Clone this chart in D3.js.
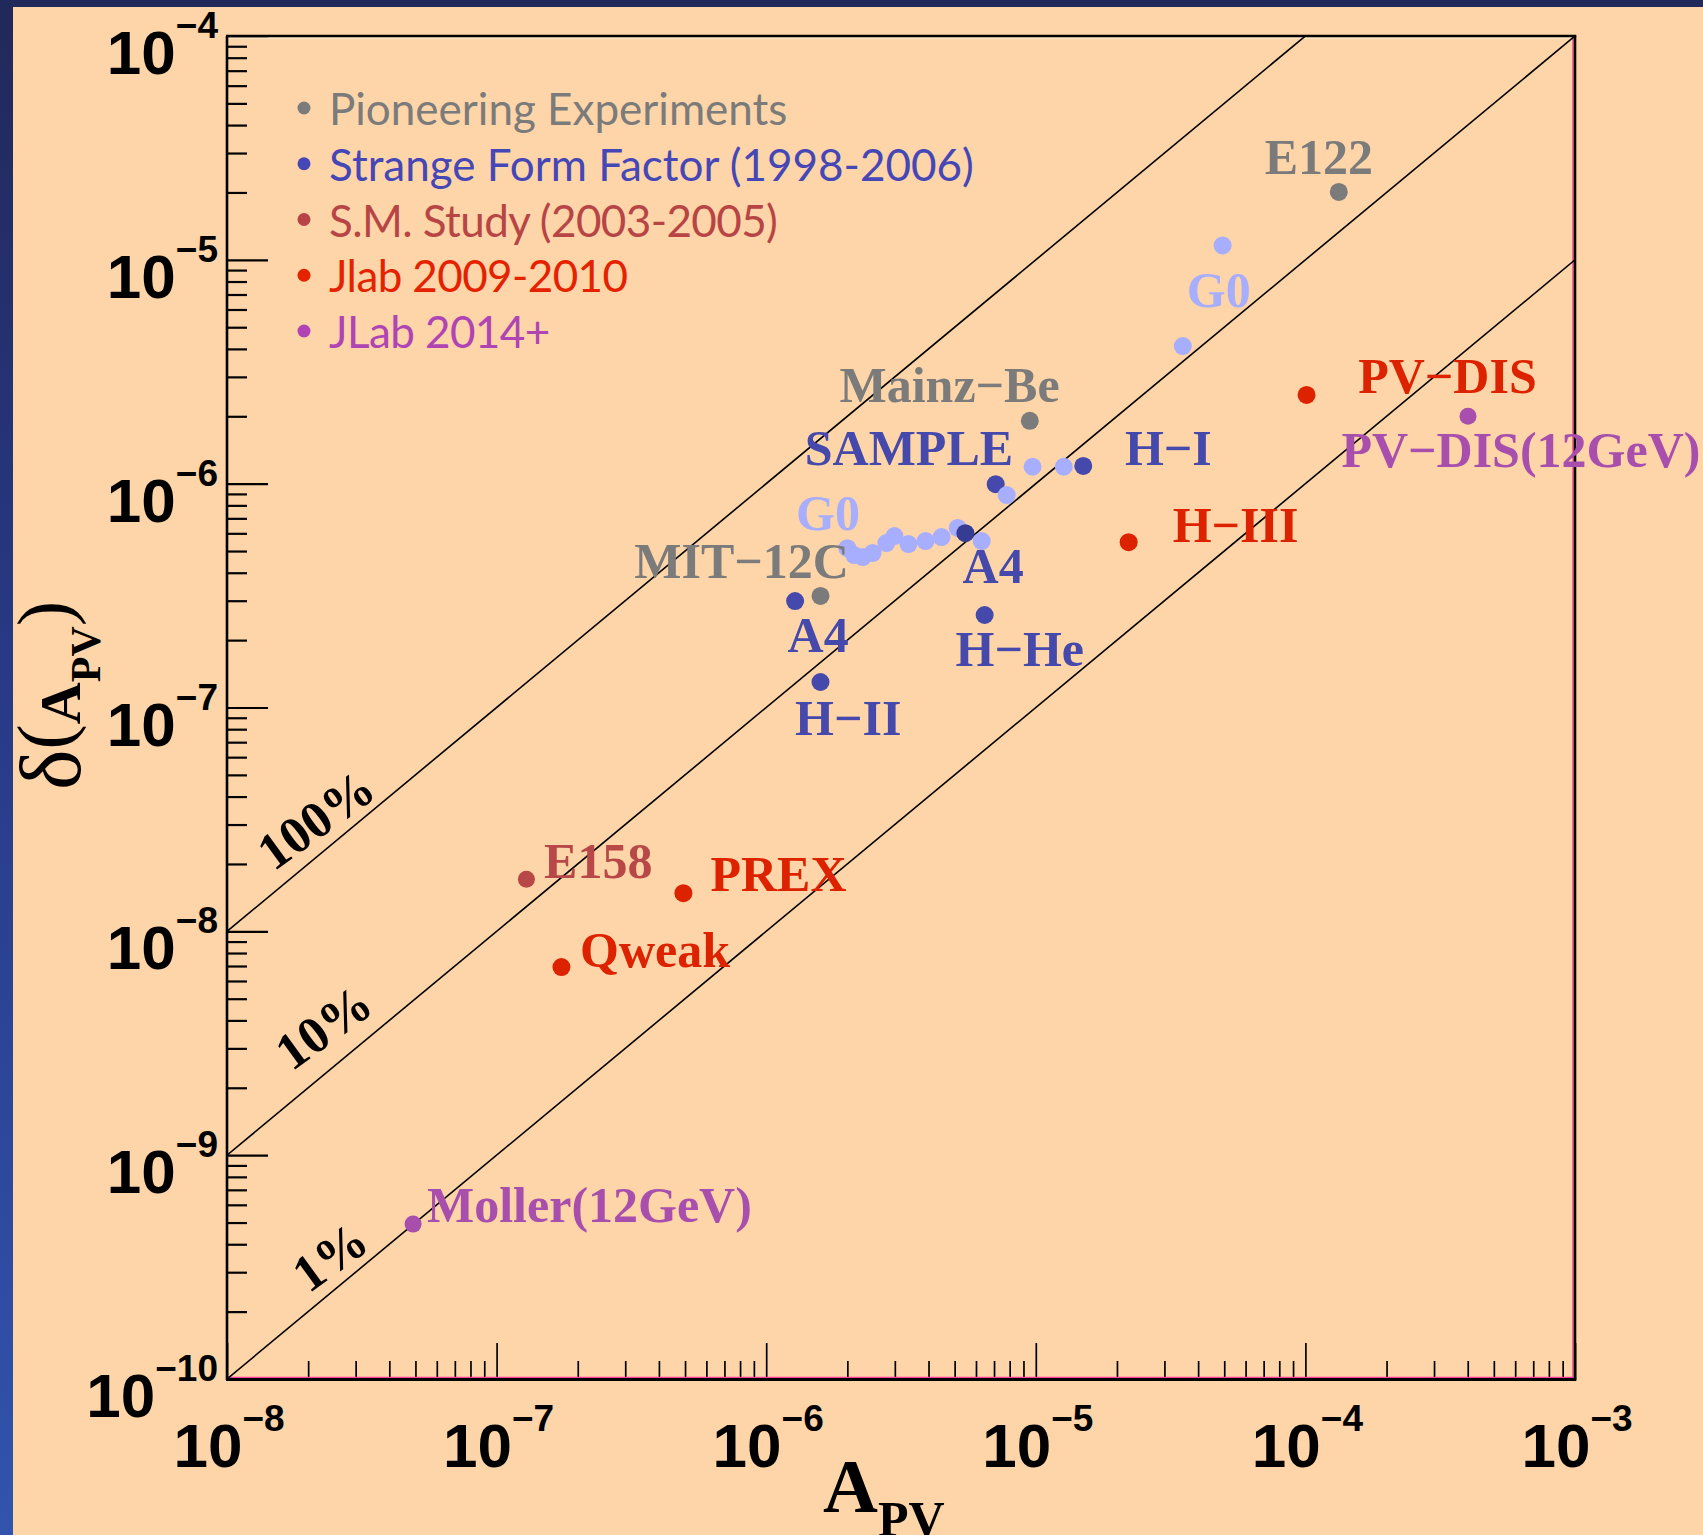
<!DOCTYPE html>
<html>
<head>
<meta charset="utf-8">
<script src="https://cdn.jsdelivr.net/npm/d3@7"></script>
<style>
  html, body { margin: 0; padding: 0; background: #222858; }
  svg { display: block; }
</style>
</head>
<body>
<svg id="chart" width="1703" height="1535"></svg>
<script>
// ---------------- data ----------------
// Parity-violating asymmetry A_PV versus its absolute uncertainty delta(A_PV)

const legendNames = [
  "Pioneering Experiments",
  "Strange Form Factor (1998-2006)",
  "S.M. Study (2003-2005)",
  "Jlab 2009-2010",
  "JLab 2014+"
];

// Pioneering experiments
const pioneering = [
  { name: "E122",     a: 1.33e-4, d: 2.01e-5 },
  { name: "Mainz-Be", a: 9.5e-6,  d: 1.91e-6 },
  { name: "MIT-12C",  a: 1.59e-6, d: 3.15e-7 }
];

// Strange form factor programme
const strangeFF = [
  { name: "SAMPLE", a: 7.10e-6, d: 9.95e-7 },
  { name: "H-I",    a: 1.50e-5, d: 1.20e-6 },
  { name: "A4",     a: 1.28e-6, d: 2.99e-7 },
  { name: "H-II",   a: 1.59e-6, d: 1.30e-7 },
  { name: "H-He",   a: 6.46e-6, d: 2.59e-7 }
];
const a4Forward = [ { name: "A4", a: 5.48e-6, d: 6.01e-7 } ];

// G0 measurements
const g0 = [
  { a: 2.00e-6, d: 5.15e-7 }, { a: 2.12e-6, d: 4.80e-7 }, { a: 2.28e-6, d: 4.70e-7 },
  { a: 2.48e-6, d: 4.90e-7 }, { a: 2.79e-6, d: 5.43e-7 }, { a: 2.99e-6, d: 5.83e-7 },
  { a: 3.37e-6, d: 5.37e-7 }, { a: 3.90e-6, d: 5.54e-7 }, { a: 4.47e-6, d: 5.77e-7 },
  { a: 5.13e-6, d: 6.34e-7 }, { a: 6.30e-6, d: 5.54e-7 }, { a: 7.80e-6, d: 8.89e-7 },
  { a: 9.73e-6, d: 1.19e-6 }, { a: 1.27e-5, d: 1.19e-6 }, { a: 3.51e-5, d: 4.12e-6 },
  { a: 4.93e-5, d: 1.16e-5 }
];

// Standard Model study
const smStudy = [ { name: "E158", a: 1.29e-7, d: 1.71e-8 } ];

// JLab 2009-2010
const jlab0910 = [
  { name: "PV-DIS", a: 1.01e-4, d: 2.49e-6 },
  { name: "H-III",  a: 2.21e-5, d: 5.48e-7 },
  { name: "PREX",   a: 4.93e-7, d: 1.48e-8 },
  { name: "Qweak",  a: 1.74e-7, d: 6.92e-9 }
];

// JLab 2014+
const jlab2014 = [
  { name: "PV-DIS(12GeV)", a: 4.01e-4, d: 2.00e-6 },
  { name: "Moller(12GeV)", a: 4.90e-8, d: 4.92e-10 }
];

// Relative-precision reference lines: delta = fraction * A
const precisionFractions = [1, 0.1, 0.01];
const precisionNames = ["100%", "10%", "1%"];
const precisionLabelAt = [ { a: 1.49e-8, d: 1.84e-8 }, { a: 1.74e-8, d: 2.35e-9 }, { a: 2.01e-8, d: 2.40e-10 } ];

// Experiment labels, anchored (left, baseline) in data coordinates
const labelText  = ["E122", "G0", "Mainz\u2212Be", "SAMPLE", "H\u2212I", "G0", "MIT\u221212C", "A4", "A4",
                    "H\u2212He", "H\u2212II", "H\u2212III", "PV\u2212DIS", "PV\u2212DIS(12GeV)", "E158", "PREX", "Qweak", "Moller(12GeV)"];
const labelGroup = ["pio", "g0", "pio", "sff", "sff", "g0", "pio", "sff", "sff",
                    "sff", "sff", "jl", "jl", "jl14", "sm", "jl", "jl", "jl14"];
const labelA     = [7.06e-5, 3.63e-5, 1.87e-6, 1.39e-6, 2.14e-5, 1.29e-6, 3.24e-7, 5.35e-6, 1.20e-6,
                    5.04e-6, 1.28e-6, 3.22e-5, 1.57e-4, 1.36e-4, 1.50e-7, 6.21e-7, 2.04e-7, 5.52e-8];
const labelD     = [2.42e-5, 6.15e-6, 2.32e-6, 1.21e-6, 1.21e-6, 6.21e-7, 3.79e-7, 3.60e-7, 1.77e-7,
                    1.53e-7, 7.53e-8, 5.48e-7, 2.54e-6, 1.19e-6, 1.73e-8, 1.51e-8, 6.92e-9, 5.02e-10];

// Axis decades
const xDecades = [-8, -7, -6, -5, -4, -3];
const yDecades = [-10, -9, -8, -7, -6, -5, -4];

// ---------------- styling ----------------
const W = 1703, H = 1535;
const frame = { left: 227, right: 1575, top: 36, bottom: 1379 };
const colors = {
  pio: "#7b7b7b", sff: "#4449ab", sffDark: "#363b93", g0: "#a8aefe",
  sm: "#b84747", jl: "#dd2200", jl14: "#a84fae"
};
const legendColors = ["#7b7b7b", "#4547b6", "#b84545", "#e52200", "#b044b4"];
const peach = "#fed5a8";
const serif = "'Liberation Serif', 'Times New Roman', serif";
const sans = "'Liberation Sans', Arial, Helvetica, sans-serif";

const svg = d3.select("#chart");

// ---------------- background ----------------
const defs = svg.append("defs");
const grad = defs.append("linearGradient").attr("id", "slideBg")
  .attr("x1", 0).attr("y1", 0).attr("x2", 0).attr("y2", 1);
grad.append("stop").attr("offset", "0%").attr("stop-color", "#21285a");
grad.append("stop").attr("offset", "45%").attr("stop-color", "#283a88");
grad.append("stop").attr("offset", "100%").attr("stop-color", "#3154ad");
svg.append("rect").attr("width", W).attr("height", H).attr("fill", "url(#slideBg)");
svg.append("rect").attr("x", 13).attr("y", 7).attr("width", W - 13).attr("height", H - 7).attr("fill", peach);

defs.append("clipPath").attr("id", "plotClip").append("rect")
  .attr("x", frame.left).attr("y", frame.top)
  .attr("width", frame.right - frame.left).attr("height", frame.bottom - frame.top);

// ---------------- scales ----------------
const x = d3.scaleLog().domain([1e-8, 1e-3]).range([frame.left, frame.right]);
const y = d3.scaleLog().domain([1e-10, 1e-4]).range([frame.bottom, frame.top]);

const isDecade = v => Math.abs(Math.log10(v) - Math.round(Math.log10(v))) < 1e-9;
const xTicks = x.ticks();
const yTicks = y.ticks();

// ---------------- axes (ticks drawn inside the frame) ----------------
function styleAxis(g, width) {
  g.select(".domain").remove();
  g.selectAll(".tick line").attr("stroke", "#000").attr("stroke-width", width);
}

svg.append("g").attr("transform", `translate(${frame.left},0)`)
  .call(d3.axisRight(y).tickValues(yTicks.filter(v => !isDecade(v))).tickSize(20).tickFormat(""))
  .call(g => styleAxis(g, 2.2));
svg.append("g").attr("transform", `translate(${frame.left},0)`)
  .call(d3.axisRight(y).tickValues(yTicks.filter(isDecade)).tickSize(41).tickFormat(""))
  .call(g => styleAxis(g, 2.2));

svg.append("g").attr("transform", `translate(0,${frame.bottom})`)
  .call(d3.axisTop(x).tickValues(xTicks.filter(v => !isDecade(v))).tickSize(18).tickFormat(""))
  .call(g => styleAxis(g, 1.7));
svg.append("g").attr("transform", `translate(0,${frame.bottom})`)
  .call(d3.axisTop(x).tickValues(xTicks.filter(isDecade)).tickSize(36).tickFormat(""))
  .call(g => styleAxis(g, 1.7));

// frame
const fr = svg.append("g");
fr.append("line").attr("x1", frame.left).attr("x2", frame.right).attr("y1", frame.top + 2).attr("y2", frame.top + 2)
  .attr("stroke", "#fff3e4").attr("stroke-width", 1.2);
fr.append("line").attr("x1", frame.left).attr("x2", frame.right).attr("y1", frame.bottom - 1.6).attr("y2", frame.bottom - 1.6)
  .attr("stroke", "#ff3c9c").attr("stroke-width", 1.4);
fr.append("line").attr("x1", frame.right - 2).attr("x2", frame.right - 2).attr("y1", frame.top).attr("y2", frame.bottom)
  .attr("stroke", "#ff3c9c").attr("stroke-width", 1.4);
fr.append("line").attr("x1", frame.left - 1).attr("x2", frame.right + 1.3).attr("y1", frame.top).attr("y2", frame.top)
  .attr("stroke", "#000").attr("stroke-width", 2.6);
fr.append("line").attr("x1", frame.left - 1).attr("x2", frame.right + 1.3).attr("y1", frame.bottom + 0.5).attr("y2", frame.bottom + 0.5)
  .attr("stroke", "#000").attr("stroke-width", 3);
fr.append("line").attr("x1", frame.left).attr("x2", frame.left).attr("y1", frame.top).attr("y2", frame.bottom + 1)
  .attr("stroke", "#000").attr("stroke-width", 2.6);
fr.append("line").attr("x1", frame.right).attr("x2", frame.right).attr("y1", frame.top).attr("y2", frame.bottom + 1)
  .attr("stroke", "#000").attr("stroke-width", 2.6);

// ---------------- tick labels ----------------
function powerLabel(sel, e) {
  sel.append("tspan").attr("font-size", 62).text("10");
  sel.append("tspan").attr("font-size", 37).attr("dy", -36).text("\u2212" + Math.abs(e));
}
svg.append("g").selectAll("text").data(yDecades).join("text")
  .attr("x", frame.left - 9)
  .attr("y", e => y(Math.pow(10, e)) + 38)
  .attr("text-anchor", "end")
  .attr("font-family", sans).attr("font-weight", "bold").attr("fill", "#000")
  .each(function (e) { powerLabel(d3.select(this), e); });

svg.append("g").selectAll("text").data(xDecades).join("text")
  .attr("x", e => x(Math.pow(10, e)) + 2)
  .attr("y", 1467)
  .attr("text-anchor", "middle")
  .attr("font-family", sans).attr("font-weight", "bold").attr("fill", "#000")
  .each(function (e) { powerLabel(d3.select(this), e); });

// ---------------- axis titles ----------------
const xTitle = svg.append("text").attr("x", 823).attr("y", 1512)
  .attr("font-family", serif).attr("font-weight", "bold").attr("fill", "#000");
xTitle.append("tspan").attr("font-size", 76).text("A");
xTitle.append("tspan").attr("font-size", 50).attr("dy", 24).text("PV");

const yTitle = svg.append("text").attr("transform", "translate(80,790) rotate(-90)")
  .attr("font-family", serif).attr("fill", "#000");
yTitle.append("tspan").attr("font-size", 86).text("\u03b4");
yTitle.append("tspan").attr("font-size", 76).attr("dy", -10).text("(");
yTitle.append("tspan").attr("font-size", 58).attr("font-weight", "bold").attr("dy", 10).text("A");
yTitle.append("tspan").attr("font-size", 42).attr("font-weight", "bold").attr("dy", 20).text("PV");
yTitle.append("tspan").attr("font-size", 76).attr("dy", -30).text(")");

// ---------------- precision lines ----------------
const plot = svg.append("g").attr("clip-path", "url(#plotClip)");
const line = d3.line().x(d => x(d[0])).y(d => y(d[1]));
plot.selectAll("path.prec").data(precisionFractions).join("path")
  .attr("class", "prec")
  .attr("d", f => line([[1e-8, 1e-8 * f], [1e-3, 1e-3 * f]]))
  .attr("fill", "none").attr("stroke", "#000").attr("stroke-width", 1.6);

svg.append("g").selectAll("text").data(precisionNames).join("text")
  .attr("transform", (t, i) => `translate(${x(precisionLabelAt[i].a)},${y(precisionLabelAt[i].d)}) rotate(-36)`)
  .attr("font-family", serif).attr("font-weight", "bold").attr("font-size", 52).attr("fill", "#000")
  .text(t => t);

// ---------------- data points ----------------
function drawPoints(data, color, r) {
  svg.append("g").selectAll("circle").data(data).join("circle")
    .attr("cx", d => x(d.a)).attr("cy", d => y(d.d)).attr("r", r).attr("fill", color);
}
drawPoints(pioneering, colors.pio, 9);
drawPoints(strangeFF, colors.sff, 9);
drawPoints(g0, colors.g0, 9);
drawPoints(a4Forward, colors.sffDark, 9);
drawPoints(smStudy, colors.sm, 8.5);
drawPoints(jlab0910, colors.jl, 9);
drawPoints(jlab2014, colors.jl14, 8.5);

// ---------------- experiment labels ----------------
svg.append("g").selectAll("text").data(labelText).join("text")
  .attr("x", (t, i) => x(labelA[i]))
  .attr("y", (t, i) => y(labelD[i]))
  .attr("font-family", serif).attr("font-weight", "bold").attr("font-size", 50)
  .attr("fill", (t, i) => colors[labelGroup[i]])
  .text(t => t);

// ---------------- legend ----------------
const legend = svg.append("g").attr("font-family", "Lato, 'Open Sans', sans-serif").attr("font-size", 44);
const legendRow = d3.scaleLinear().domain([0, 4]).range([125, 348]);
legend.selectAll("circle").data(legendNames).join("circle")
  .attr("cx", 304).attr("cy", (n, i) => legendRow(i) - 17).attr("r", 6.5)
  .attr("fill", (n, i) => legendColors[i]);
legend.selectAll("text").data(legendNames).join("text")
  .attr("x", 329).attr("y", (n, i) => legendRow(i))
  .attr("fill", (n, i) => legendColors[i])
  .attr("letter-spacing", (n, i) => i >= 2 ? -0.6 : 0)
  .text(n => n);
</script>
</body>
</html>
